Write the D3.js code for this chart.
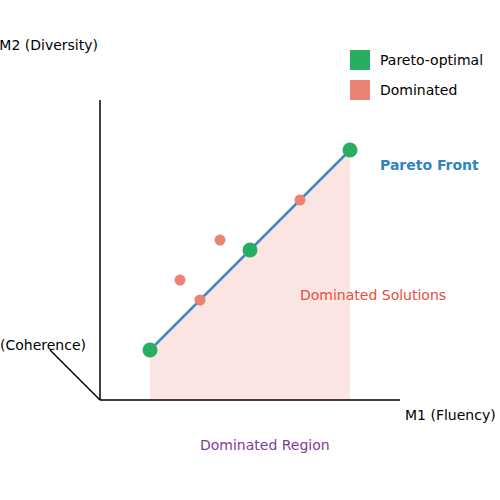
<!DOCTYPE html>
<html><head><meta charset="utf-8">
<script src="https://cdn.jsdelivr.net/npm/d3@7"></script>
<style>body{margin:0;background:#fff}text{font-family:"DejaVu Sans",sans-serif;font-size:14px}</style>
</head><body><svg id="c" width="500" height="500"></svg>
<script>
const paretoX = [1, 3, 5];
const paretoY = [1, 3, 5];
const dominatedX = [1.6, 2.4, 2, 4];
const dominatedY = [2.4, 3.2, 2, 4];
const legendLabels = ["Pareto-optimal", "Dominated"];
const legendColors = ["#27ae60", "#ec8274"];

const svg = d3.select("#c");
const x = d3.scaleLinear().domain([0, 6]).range([100, 400]);
const y = d3.scaleLinear().domain([0, 6]).range([400, 100]);

// dominated region under the front
const region = paretoX.map((v, i) => [x(v), y(paretoY[i])]);
region.push([x(5), y(0)], [x(1), y(0)]);
svg.append("polygon").attr("points", region.join(" ")).attr("fill", "#fbe5e2");

// axes
svg.append("line").attr("x1", x(0)).attr("y1", y(0)).attr("x2", x(6)).attr("y2", y(0)).attr("stroke", "#000").attr("stroke-width", 1.5);
svg.append("line").attr("x1", x(0)).attr("y1", y(0)).attr("x2", x(0)).attr("y2", y(6)).attr("stroke", "#000").attr("stroke-width", 1.5);
svg.append("line").attr("x1", x(0)).attr("y1", y(0)).attr("x2", x(-1)).attr("y2", y(1)).attr("stroke", "#000").attr("stroke-width", 1.5);

svg.append("text").attr("x", 405).attr("y", 420).text("M1 (Fluency)");
svg.append("text").attr("x", 98).attr("y", 50).attr("text-anchor", "end").text("M2 (Diversity)");
svg.append("text").attr("x", 86).attr("y", 350).attr("text-anchor", "end").text("M3 (Coherence)");

// pareto front line
svg.append("path")
  .attr("d", d3.line()(paretoX.map((v, i) => [x(v), y(paretoY[i])])))
  .attr("stroke", "#3f8ac4").attr("stroke-width", 2.5).attr("fill", "none");

svg.selectAll(".dom").data(dominatedX).enter().append("circle")
  .attr("cx", d => x(d)).attr("cy", (d, i) => y(dominatedY[i])).attr("r", 5.5)
  .attr("fill", legendColors[1]);
svg.selectAll(".par").data(paretoX).enter().append("circle")
  .attr("cx", d => x(d)).attr("cy", (d, i) => y(paretoY[i])).attr("r", 7.5)
  .attr("fill", legendColors[0]);

// legend
legendLabels.forEach((l, i) => {
  svg.append("rect").attr("x", 350).attr("y", 50 + i * 30).attr("width", 20).attr("height", 20).attr("fill", legendColors[i]);
  svg.append("text").attr("x", 380).attr("y", 65 + i * 30).text(l);
});

svg.append("text").attr("x", 380).attr("y", 170).attr("fill", "#2e86c1").attr("font-weight", "bold").text("Pareto Front");
svg.append("text").attr("x", 300).attr("y", 300).attr("fill", "#e74c3c").text("Dominated Solutions");
svg.append("text").attr("x", 200).attr("y", 450).attr("fill", "#7d3c98").text("Dominated Region");
</script></body></html>
